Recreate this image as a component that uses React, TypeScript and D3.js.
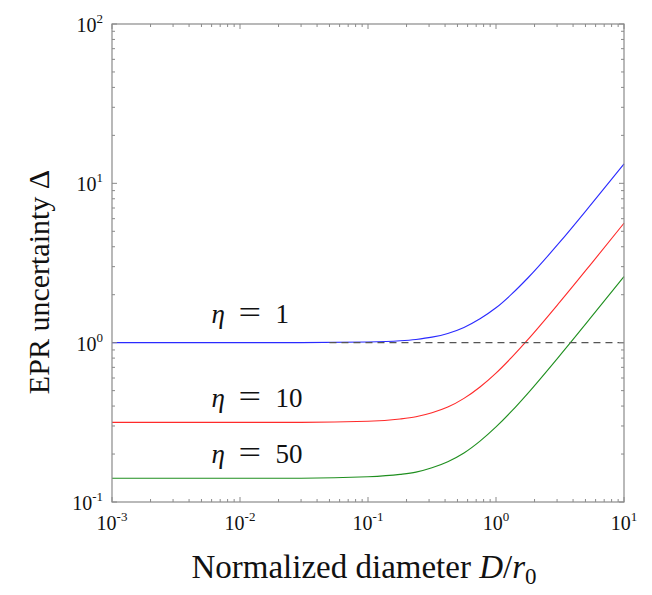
import React from 'react';
import * as d3 from 'd3';

// values (x = D/r0, y = Delta)
const diam = [0.001, 0.01, 0.03, 0.1, 0.178, 0.237, 0.316, 0.42, 0.562, 0.75, 1, 1.33, 1.78, 3.16, 5.62, 10];
const eta1 = [1.0, 1.0, 1.0, 1.009, 1.027, 1.048, 1.083, 1.143, 1.247, 1.413, 1.655, 2.023, 2.555, 4.285, 7.48, 13.23];
const eta10 = [0.316, 0.316, 0.316, 0.321, 0.332, 0.343, 0.363, 0.394, 0.447, 0.527, 0.644, 0.811, 1.048, 1.802, 3.17, 5.62];
const eta50 = [0.141, 0.141, 0.141, 0.144, 0.149, 0.154, 0.164, 0.179, 0.203, 0.241, 0.296, 0.373, 0.483, 0.833, 1.466, 2.6];

const etaValues = ['1', '10', '50'];
const seriesColors = ['#2a2aff', '#ff2a2a', '#1f8f1f'];
const labelPos = [[0.006, 1.33], [0.006, 0.395], [0.006, 0.176]];

const xDecades = [-3, -2, -1, 0, 1];
const yDecades = [-1, 0, 1, 2];

const width = 652;
const height = 595;
const margin = { top: 24, right: 28, bottom: 93, left: 112 };

export default function App() {
  const x = d3.scaleLog().domain([1e-3, 1e1]).range([margin.left, width - margin.right]);
  const y = d3.scaleLog().domain([1e-1, 1e2]).range([height - margin.bottom, margin.top]);
  const [x0, x1] = x.range();
  const [y0, y1] = y.range();

  const line = d3.line<[number, number]>()
    .x(d => x(d[0]))
    .y(d => y(d[1]))
    .curve(d3.curveMonotoneX);

  const curves: [number, number][][] = [eta1, eta10, eta50].map(s => diam.map((d, i) => [d, s[i]] as [number, number]));

  const xTicks = x.ticks();
  const yTicks = y.ticks();
  const isMajor = (v: number) => Math.abs(Math.log10(v) - Math.round(Math.log10(v))) < 1e-9;
  const axisColor = '#8a8a8a';
  const font = '"Liberation Serif", "Times New Roman", serif';

  return (
    <svg width={width} height={height} style={{ display: 'block', position: 'absolute', left: 0, top: 0 }}>
      <rect x={0} y={0} width={width} height={height} fill="white" />

      {/* curves */}
      {curves.map((c, i) => (
        <path key={i} d={line(c) || ''} fill="none" stroke={seriesColors[i]} strokeWidth={1.1} />
      ))}

      {/* reference line at Delta = 1 */}
      <line x1={x(0.05)} x2={x1} y1={y(1)} y2={y(1)} stroke="#555" strokeWidth={1.3} strokeDasharray="7,5" />

      {/* frame */}
      <rect x={x0} y={y1} width={x1 - x0} height={y0 - y1} fill="none" stroke={axisColor} strokeWidth={1.2} />

      {/* ticks on all four sides, pointing inward */}
      {xTicks.map((t, i) => {
        const len = isMajor(t) ? 5 : 3;
        return (
          <g key={'xt' + i} stroke={axisColor} strokeWidth={1}>
            <line x1={x(t)} x2={x(t)} y1={y0} y2={y0 - len} />
            <line x1={x(t)} x2={x(t)} y1={y1} y2={y1 + len} />
          </g>
        );
      })}
      {yTicks.map((t, i) => {
        const len = isMajor(t) ? 5 : 3;
        return (
          <g key={'yt' + i} stroke={axisColor} strokeWidth={1}>
            <line x1={x0} x2={x0 + len} y1={y(t)} y2={y(t)} />
            <line x1={x1} x2={x1 - len} y1={y(t)} y2={y(t)} />
          </g>
        );
      })}

      {/* tick labels */}
      {xDecades.map(p => (
        <text key={'xl' + p} x={x(Math.pow(10, p))} y={y0 + 28} textAnchor="middle" fontSize={20}
          fontFamily={font} fill="#111">
          10<tspan dy={-9} fontSize={13}>{p}</tspan>
        </text>
      ))}
      {yDecades.map(p => (
        <text key={'yl' + p} x={x0 - 9} y={y(Math.pow(10, p)) + 8} textAnchor="end" fontSize={20}
          fontFamily={font} fill="#111">
          10<tspan dy={-9} fontSize={13}>{p}</tspan>
        </text>
      ))}

      {/* series labels */}
      {etaValues.map((v, i) => {
        const lx = x(labelPos[i][0]);
        const ly = y(labelPos[i][1]);
        return (
          <g key={'sl' + i} fontFamily={font} fill="#111">
            <text x={lx} y={ly} fontSize={27} fontStyle="italic">{'\u03b7'}</text>
            <text x={lx + 27} y={ly + 3} fontSize={40} transform={`scale(1,0.8)`}
              style={{ transformBox: 'fill-box', transformOrigin: 'center' }}>=</text>
            <text x={lx + 64} y={ly} fontSize={27}>{v}</text>
          </g>
        );
      })}

      {/* axis titles */}
      <text x={(x0 + x1) / 2 - 4} y={578} textAnchor="middle" fontSize={33} fontFamily={font} fill="#111">
        Normalized diameter <tspan fontStyle="italic">D</tspan>/<tspan fontStyle="italic">r</tspan>
        <tspan fontSize={23} dy={6}>0</tspan>
      </text>
      <text transform={`translate(49, ${(y0 + y1) / 2 + 19}) rotate(-90)`} textAnchor="middle" fontSize={30}
        fontFamily={font} fill="#111">
        EPR uncertainty {'\u0394'}
      </text>
    </svg>
  );
}
